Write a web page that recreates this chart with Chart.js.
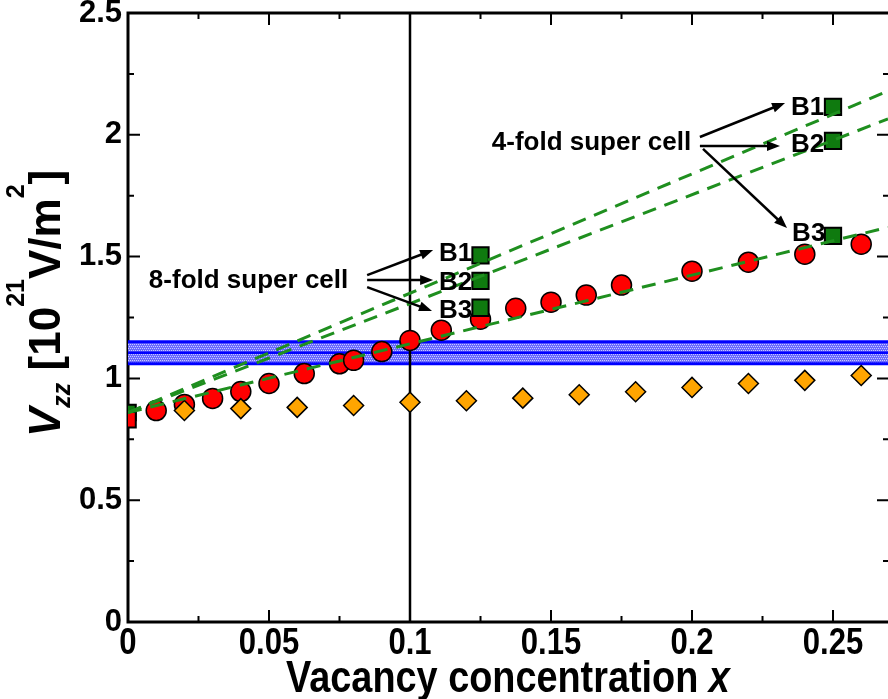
<!DOCTYPE html>
<html>
<head>
<meta charset="utf-8">
<script src="https://cdn.jsdelivr.net/npm/chart.js@4.4.1/dist/chart.umd.min.js"></script>
<style>
  html, body { margin: 0; padding: 0; background: #fff; overflow: hidden; }
  #wrap { width: 888px; height: 699px; }
  canvas { display: block; }
</style>
</head>
<body>
<div id="wrap"><canvas id="vzzChart" width="888" height="699" style="width:888px;height:699px"></canvas></div>
<script>
// ---- data ----
const xTicks = [0, 0.05, 0.1, 0.15, 0.2, 0.25];
const yTicks = [0, 0.5, 1, 1.5, 2, 2.5];

// red circles
const circleX = [0.01, 0.02, 0.03, 0.04, 0.05, 0.0625, 0.075, 0.08, 0.09, 0.1, 0.1111, 0.125, 0.1375, 0.15, 0.1625, 0.175, 0.2, 0.22, 0.24, 0.26];
const circleY = [0.868, 0.893, 0.918, 0.946, 0.979, 1.02, 1.06, 1.074, 1.11, 1.156, 1.198, 1.243, 1.288, 1.313, 1.342, 1.383, 1.44, 1.477, 1.51, 1.551];

// orange diamonds
const diamondX = [0.02, 0.04, 0.06, 0.08, 0.1, 0.12, 0.14, 0.16, 0.18, 0.2, 0.22, 0.24, 0.26];
const diamondY = [0.868, 0.876, 0.881, 0.889, 0.902, 0.908, 0.919, 0.933, 0.945, 0.963, 0.979, 0.992, 1.012];

// green squares (B1, B2, B3) for 8-fold and 4-fold super cells
const cell8X = [0.125, 0.125, 0.125];
const cell8Y = [1.505, 1.40, 1.29];
const cell4X = [0.25, 0.25, 0.25];
const cell4Y = [2.115, 1.975, 1.585];

// x = 0 points
const originX = [0];
const originGreenY = [0.86];
const originRedY = [0.83];

// dashed linear fits
const fitX = [0, 0.2695];
const fitB1 = [0.86, 2.18];
const fitB2 = [0.86, 2.065];
const fitB3 = [0.86, 1.62];

// experimental band
const bandX = [0, 0.2695];
const bandLow = 1.06;
const bandMid = 1.105;
const bandHigh = 1.15;

// vertical marker
const markerX = 0.1;

const toPts = (xs, ys) => xs.map((v, i) => ({ x: v, y: ys[i] }));
const flat = (xs, v) => xs.map(x => ({ x: x, y: v }));

// hatched band fill
const pat = document.createElement('canvas');
pat.width = 4; pat.height = 4;
const pc = pat.getContext('2d');
pc.fillStyle = '#6a6aff';
pc.fillRect(0, 0, 4, 4);
pc.fillStyle = '#c8c8ff';
[[0, 0], [2, 0], [1, 2], [3, 2]].forEach(p => pc.fillRect(p[0], p[1], 1, 1));
const bandFill = pc.createPattern(pat, 'repeat');

const FONT = '"Liberation Sans", Arial, sans-serif';
const GREEN_LINE = '#1f8f1f';
const GREEN_SQ = '#0f7a0f';

function drawArrow(ctx, x1, y1, x2, y2) {
    const ang = Math.atan2(y2 - y1, x2 - x1);
    const L = 13, W = 5;
    ctx.beginPath();
    ctx.moveTo(x1, y1);
    ctx.lineTo(x2 - Math.cos(ang) * L * 0.8, y2 - Math.sin(ang) * L * 0.8);
    ctx.stroke();
    ctx.beginPath();
    ctx.moveTo(x2, y2);
    ctx.lineTo(x2 - Math.cos(ang) * L - Math.sin(ang) * W, y2 - Math.sin(ang) * L + Math.cos(ang) * W);
    ctx.lineTo(x2 - Math.cos(ang) * L + Math.sin(ang) * W, y2 - Math.sin(ang) * L - Math.cos(ang) * W);
    ctx.closePath();
    ctx.fill();
}

// annotation layout (in data units)
const notes = [
    { text: '8-fold super cell', x: 0.0074, y: 1.40,
      arrows: [[0.0848, 1.424, 0.1082, 1.527], [0.0848, 1.404, 0.1082, 1.404], [0.0848, 1.375, 0.1078, 1.277]],
      labels: [[0.1103, 1.511], [0.1103, 1.392], [0.1103, 1.277]] },
    { text: '4-fold super cell', x: 0.129, y: 1.966,
      arrows: [[0.2028, 1.991, 0.2330, 2.131], [0.2028, 1.954, 0.2312, 1.954], [0.2039, 1.942, 0.2337, 1.617]],
      labels: [[0.2351, 2.110], [0.2351, 1.958], [0.2355, 1.593]] }
];

const framePlugin = {
    id: 'frame',
    beforeDatasetsDraw(chart) {
        const { ctx, chartArea: a, scales: { x, y } } = chart;
        ctx.save();
        ctx.strokeStyle = '#000';
        ctx.lineWidth = 3;
        ctx.beginPath();
        ctx.moveTo(a.right + 3, a.top); ctx.lineTo(a.left, a.top);
        ctx.lineTo(a.left, a.bottom); ctx.lineTo(a.right + 3, a.bottom);
        ctx.stroke();
        ctx.lineWidth = 2;
        ctx.beginPath();
        for (let i = 0; i <= 10; i++) {
            const px = x.getPixelForValue(i * 0.025);
            const len = i % 2 === 0 ? 12 : 6;
            ctx.moveTo(px, a.bottom); ctx.lineTo(px, a.bottom - len);
            ctx.moveTo(px, a.top); ctx.lineTo(px, a.top + len);
        }
        for (let i = 0; i <= 10; i++) {
            const py = y.getPixelForValue(i * 0.25);
            const len = i % 2 === 0 ? 12 : 6;
            ctx.moveTo(a.left, py); ctx.lineTo(a.left + len, py);
            ctx.moveTo(a.right + 1, py); ctx.lineTo(a.right + 1 - len, py);
        }
        ctx.stroke();
        ctx.restore();
    },
    afterDraw(chart) {
        const { ctx, chartArea: a, scales: { x, y } } = chart;
        ctx.save();
        ctx.fillStyle = '#000';
        ctx.strokeStyle = '#000';

        // y tick labels
        ctx.font = 'bold 31px ' + FONT;
        ctx.textAlign = 'right';
        ctx.textBaseline = 'middle';
        yTicks.forEach(v => ctx.fillText(String(v), a.left - 6, y.getPixelForValue(v)));

        // x tick labels (condensed bold)
        ctx.textBaseline = 'top';
        ctx.textAlign = 'center';
        xTicks.forEach(v => {
            ctx.save();
            ctx.translate(x.getPixelForValue(v), a.bottom + 3);
            ctx.scale(0.84, 1);
            ctx.font = 'bold 37px ' + FONT;
            ctx.fillText(String(v), 0, 0);
            ctx.restore();
        });

        // x title
        ctx.save();
        const sx = 0.86;
        ctx.textBaseline = 'alphabetic';
        ctx.textAlign = 'left';
        ctx.font = 'bold 44px ' + FONT;
        const p1 = 'Vacancy concentration ';
        const w1 = ctx.measureText(p1).width;
        ctx.font = 'italic bold 44px ' + FONT;
        const w2 = ctx.measureText('x').width;
        const cx = (a.left + a.right) / 2;
        ctx.translate(cx - (w1 + w2) * sx / 2, 692);
        ctx.scale(sx, 1);
        ctx.font = 'bold 44px ' + FONT;
        ctx.fillText(p1, 0, 0);
        ctx.font = 'italic bold 44px ' + FONT;
        ctx.fillText('x', w1, 0);
        ctx.restore();

        // y title, rotated, with sub/superscripts
        ctx.save();
        ctx.translate(60, 437);
        ctx.rotate(-Math.PI / 2);
        ctx.textBaseline = 'alphabetic';
        ctx.textAlign = 'left';
        const parts = [
            ['V', 'italic bold 44px', 0],
            ['zz', 'italic bold 25px', -10],
            [' [10', 'bold 44px', 0],
            ['21', 'bold 25px', 36],
            ['V/m', 'bold 44px', 0],
            ['2', 'bold 25px', 36],
            [']', 'bold 44px', 0]
        ];
        let pos = 0;
        parts.forEach(p => {
            ctx.font = p[1] + ' ' + FONT;
            ctx.fillText(p[0], pos, -p[2]);
            pos += ctx.measureText(p[0]).width;
        });
        ctx.restore();

        // annotations
        ctx.lineWidth = 2.5;
        notes.forEach(n => {
            ctx.font = 'bold 26px ' + FONT;
            ctx.textAlign = 'left';
            ctx.textBaseline = 'middle';
            ctx.fillText(n.text, x.getPixelForValue(n.x), y.getPixelForValue(n.y));
            n.arrows.forEach(ar => {
                drawArrow(ctx, x.getPixelForValue(ar[0]), y.getPixelForValue(ar[1]),
                    x.getPixelForValue(ar[2]), y.getPixelForValue(ar[3]));
            });
            n.labels.forEach((lb, i) => {
                ctx.fillText('B' + (i + 1), x.getPixelForValue(lb[0]), y.getPixelForValue(lb[1]));
            });
        });
        ctx.restore();
    }
};

const ctx = document.getElementById('vzzChart').getContext('2d');
new Chart(ctx, {
    type: 'scatter',
    data: {
        datasets: [
            { label: 'band high', data: flat(bandX, bandHigh), showLine: true, pointRadius: 0,
              borderColor: '#0000ff', borderWidth: 3, backgroundColor: bandFill, fill: '+1', order: 20 },
            { label: 'band low', data: flat(bandX, bandLow), showLine: true, pointRadius: 0,
              borderColor: '#0000ff', borderWidth: 3, fill: false, order: 19 },
            { label: 'band mid', data: flat(bandX, bandMid), showLine: true, pointRadius: 0,
              borderColor: '#0000ff', borderWidth: 2.5, fill: false, order: 18 },
            { label: 'x = 0.1', data: [{ x: markerX, y: 0 }, { x: markerX, y: 2.5 }], showLine: true, pointRadius: 0,
              borderColor: '#000', borderWidth: 2.5, order: 17 },
            { label: 'calc', data: toPts(circleX, circleY), pointStyle: 'circle', pointRadius: 10,
              backgroundColor: '#ff0000', borderColor: '#000', borderWidth: 1.5, order: 10 },
            { label: 'diamonds', data: toPts(diamondX, diamondY), pointStyle: 'rectRot', pointRadius: 10,
              backgroundColor: '#ffa500', borderColor: '#000', borderWidth: 1.5, order: 9 },
            { label: '8-fold', data: toPts(cell8X, cell8Y), pointStyle: 'rect', pointRadius: 11.5,
              backgroundColor: GREEN_SQ, borderColor: '#000', borderWidth: 2, order: 8 },
            { label: '4-fold', data: toPts(cell4X, cell4Y), pointStyle: 'rect', pointRadius: 11.5,
              backgroundColor: GREEN_SQ, borderColor: '#000', borderWidth: 2, order: 8 },
            { label: 'x0 green', data: toPts(originX, originGreenY), pointStyle: 'rect', pointRadius: 11,
              backgroundColor: GREEN_SQ, borderColor: '#000', borderWidth: 2, order: 7 },
            { label: 'x0 red', data: toPts(originX, originRedY), pointStyle: 'rect', pointRadius: 11,
              backgroundColor: '#ff0000', borderColor: '#000', borderWidth: 2, order: 6 },
            { label: 'fit B1', data: toPts(fitX, fitB1), showLine: true, pointRadius: 0,
              borderColor: GREEN_LINE, borderWidth: 3, borderDash: [14, 9], order: 3 },
            { label: 'fit B2', data: toPts(fitX, fitB2), showLine: true, pointRadius: 0,
              borderColor: GREEN_LINE, borderWidth: 3, borderDash: [14, 9], order: 3 },
            { label: 'fit B3', data: toPts(fitX, fitB3), showLine: true, pointRadius: 0,
              borderColor: GREEN_LINE, borderWidth: 3, borderDash: [14, 9], order: 3 }
        ]
    },
    options: {
        responsive: false,
        animation: false,
        layout: { autoPadding: false, padding: { left: 128, right: 0, top: 13, bottom: 77 } },
        plugins: { legend: { display: false }, tooltip: { enabled: false } },
        elements: { line: { tension: 0 } },
        scales: {
            x: { type: 'linear', min: 0, max: 0.2695, display: false },
            y: { type: 'linear', min: 0, max: 2.5, display: false }
        }
    },
    plugins: [framePlugin]
});
</script>
</body>
</html>
